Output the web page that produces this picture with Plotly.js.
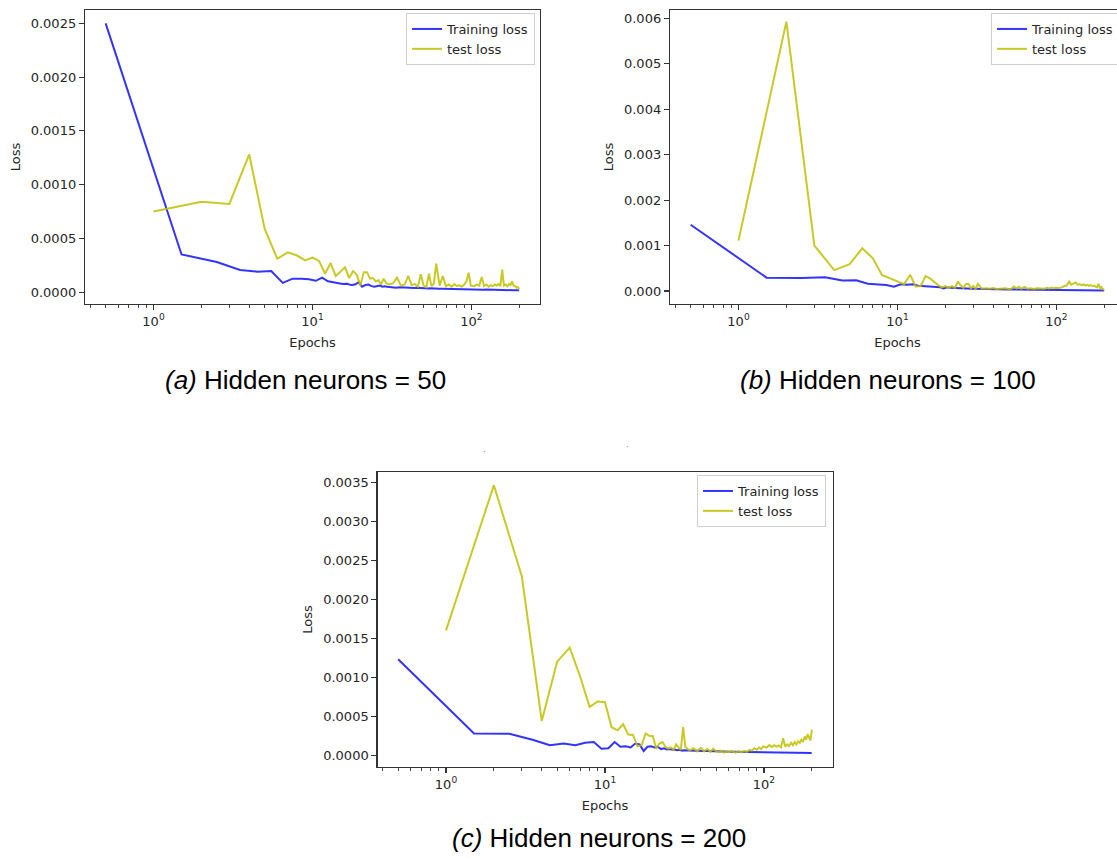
<!DOCTYPE html>
<html>
<head>
<meta charset="utf-8">
<script src="https://cdn.plot.ly/plotly-3.0.1.min.js"></script>
<style>
html, body { margin: 0; padding: 0; overflow: hidden; background: #ffffff; }
#plot { width: 1130px; height: 858px; }
</style>
</head>
<body>
<div id="plot"></div>
<script>
// ---------- data ----------
const testEpochs = [1,2,3,4,5,6,7,8,9,10,11,12,13,14,15,16,17,18,19,20,21,22,23,24,25,26,27,28,29,30,31,32,
  34,36,38,40,42,44,46,48,50,52,54,56,58,60,
  63,66,69,72,75,78,81,84,87,90,93,96,99,
  104,108,112,116,120,124,128,132,136,140,144,148,152,156,160,164,168,172,176,180,184,188,192,196,200];
const trainEpochs = [0.5,1.5,2.5,3.5,4.5,5.5,6.5,7.5,8.5,9.5,10.5,11.5,12.5,13.5,14.5,15.5,16.5,17.5,18.5,19.5,20.5,21.5,22.5,23.5,24.5,25.5,26.5,27.5,28.5,29.5,30.5,31.5,
  33.5,35.5,37.5,39.5,41.5,43.5,45.5,47.5,49.5,51.5,53.5,55.5,57.5,59.5,
  62.5,65.5,68.5,71.5,74.5,77.5,80.5,83.5,86.5,89.5,92.5,95.5,98.5,
  103.5,107.5,111.5,115.5,119.5,123.5,127.5,131.5,135.5,139.5,143.5,147.5,151.5,155.5,159.5,163.5,167.5,171.5,175.5,179.5,183.5,187.5,191.5,195.5,199.5];

// (a) hidden neurons = 50
const trainLossA = [25e-4,3.5e-4,2.8e-4,2.05e-4,1.9e-4,1.95e-4,0.85e-4,1.25e-4,1.25e-4,1.2e-4,
  1.05e-4,1.35e-4,1.0e-4,0.9e-4,0.8e-4,0.75e-4,0.78e-4,0.65e-4,0.7e-4,0.9e-4,
  0.5e-4,0.65e-4,0.7e-4,0.55e-4,0.5e-4,0.55e-4,0.6e-4,0.5e-4,0.55e-4,0.5e-4,0.48e-4,0.45e-4,
  0.4e-4,0.45e-4,0.42e-4,0.4e-4,0.42e-4,0.38e-4,0.4e-4,0.37e-4,0.35e-4,0.36e-4,0.33e-4,0.35e-4,0.32e-4,0.3e-4,
  0.31e-4,0.3e-4,0.29e-4,0.3e-4,0.28e-4,0.29e-4,0.27e-4,0.28e-4,0.26e-4,0.27e-4,0.25e-4,0.26e-4,0.25e-4,
  0.24e-4,0.25e-4,0.23e-4,0.24e-4,0.22e-4,0.23e-4,0.22e-4,0.21e-4,0.22e-4,0.2e-4,0.21e-4,0.2e-4,0.2e-4,0.19e-4,0.2e-4,0.19e-4,0.18e-4,0.19e-4,0.18e-4,0.18e-4,0.17e-4,0.18e-4,0.17e-4,0.16e-4,0.17e-4];
const testLossA = [7.5e-4,8.4e-4,8.2e-4,12.8e-4,5.9e-4,3.1e-4,3.7e-4,3.4e-4,2.95e-4,3.2e-4,
  2.9e-4,1.7e-4,2.7e-4,1.5e-4,1.9e-4,2.3e-4,1.3e-4,1.95e-4,1.6e-4,0.6e-4,
  1.85e-4,1.85e-4,1.25e-4,1.3e-4,1.0e-4,1.1e-4,0.7e-4,1.25e-4,0.85e-4,0.7e-4,0.75e-4,0.8e-4,
  1.35e-4,0.6e-4,0.7e-4,1.5e-4,0.65e-4,0.75e-4,0.5e-4,1.65e-4,0.6e-4,0.45e-4,1.7e-4,0.55e-4,0.8e-4,2.65e-4,
  0.6e-4,1.5e-4,0.55e-4,0.7e-4,0.5e-4,0.75e-4,0.55e-4,0.65e-4,0.5e-4,0.7e-4,1.0e-4,1.8e-4,0.6e-4,
  0.55e-4,0.7e-4,0.6e-4,1.4e-4,0.55e-4,0.7e-4,0.5e-4,0.65e-4,0.55e-4,0.7e-4,0.6e-4,0.75e-4,0.55e-4,2.1e-4,0.6e-4,0.7e-4,0.55e-4,0.75e-4,0.65e-4,1.0e-4,0.6e-4,0.55e-4,0.4e-4,0.45e-4,0.3e-4];

// (b) hidden neurons = 100
const trainLossB = [14.6e-4,2.95e-4,2.85e-4,3.05e-4,2.3e-4,2.35e-4,1.6e-4,1.4e-4,1.35e-4,0.95e-4,
  1.5e-4,1.4e-4,1.5e-4,1.15e-4,1.05e-4,1.0e-4,0.95e-4,0.9e-4,0.85e-4,0.55e-4,
  0.8e-4,0.75e-4,0.7e-4,0.75e-4,0.6e-4,0.65e-4,0.5e-4,0.6e-4,0.55e-4,0.5e-4,0.52e-4,0.5e-4,
  0.45e-4,0.47e-4,0.42e-4,0.44e-4,0.4e-4,0.41e-4,0.38e-4,0.39e-4,0.36e-4,0.37e-4,0.34e-4,0.35e-4,0.33e-4,0.32e-4,
  0.31e-4,0.3e-4,0.29e-4,0.28e-4,0.28e-4,0.27e-4,0.26e-4,0.26e-4,0.25e-4,0.24e-4,0.24e-4,0.23e-4,0.22e-4,
  0.22e-4,0.21e-4,0.2e-4,0.2e-4,0.19e-4,0.18e-4,0.18e-4,0.17e-4,0.17e-4,0.16e-4,0.16e-4,0.15e-4,0.15e-4,0.14e-4,0.14e-4,0.13e-4,0.13e-4,0.12e-4,0.12e-4,0.12e-4,0.11e-4,0.11e-4,0.1e-4,0.1e-4,0.1e-4];
const testLossB = [11.1e-4,59.3e-4,10.0e-4,4.6e-4,5.9e-4,9.4e-4,7.2e-4,3.5e-4,2.8e-4,2.2e-4,
  1.5e-4,3.6e-4,1.0e-4,1.1e-4,3.3e-4,2.8e-4,2.0e-4,1.3e-4,0.8e-4,1.1e-4,
  0.7e-4,1.1e-4,0.7e-4,2.1e-4,1.2e-4,0.7e-4,1.6e-4,1.5e-4,0.6e-4,1.1e-4,0.5e-4,1.6e-4,
  0.5e-4,0.6e-4,0.5e-4,0.65e-4,0.45e-4,0.55e-4,0.5e-4,0.6e-4,0.4e-4,0.5e-4,1.0e-4,0.6e-4,0.95e-4,0.5e-4,
  0.9e-4,0.5e-4,0.6e-4,0.45e-4,0.6e-4,0.55e-4,0.65e-4,0.5e-4,0.7e-4,0.55e-4,0.75e-4,0.6e-4,0.7e-4,
  0.65e-4,0.8e-4,1.1e-4,1.2e-4,2.1e-4,1.4e-4,1.6e-4,1.9e-4,1.4e-4,1.5e-4,1.3e-4,1.45e-4,1.2e-4,1.35e-4,1.15e-4,1.3e-4,1.1e-4,1.2e-4,1.0e-4,0.8e-4,1.6e-4,0.6e-4,0.9e-4,0.4e-4,0.3e-4];

// (c) hidden neurons = 200
const trainLossC = [12.3e-4,2.8e-4,2.75e-4,2.0e-4,1.3e-4,1.5e-4,1.3e-4,1.6e-4,1.7e-4,0.85e-4,
  0.9e-4,1.7e-4,1.1e-4,1.15e-4,1.0e-4,1.5e-4,1.4e-4,0.55e-4,1.1e-4,1.15e-4,
  1.0e-4,1.1e-4,0.8e-4,0.9e-4,0.75e-4,0.8e-4,0.7e-4,0.75e-4,0.65e-4,0.7e-4,0.6e-4,0.65e-4,
  0.62e-4,0.58e-4,0.6e-4,0.56e-4,0.55e-4,0.54e-4,0.52e-4,0.53e-4,0.5e-4,0.5e-4,0.48e-4,0.49e-4,0.47e-4,0.46e-4,
  0.46e-4,0.45e-4,0.44e-4,0.44e-4,0.43e-4,0.42e-4,0.42e-4,0.41e-4,0.4e-4,0.4e-4,0.39e-4,0.39e-4,0.38e-4,
  0.38e-4,0.37e-4,0.37e-4,0.36e-4,0.36e-4,0.35e-4,0.35e-4,0.34e-4,0.34e-4,0.33e-4,0.33e-4,0.33e-4,0.32e-4,0.32e-4,0.32e-4,0.31e-4,0.31e-4,0.31e-4,0.3e-4,0.3e-4,0.3e-4,0.3e-4,0.29e-4,0.29e-4,0.29e-4];
const testLossC = [16.0e-4,34.6e-4,22.9e-4,4.4e-4,12.0e-4,13.8e-4,10.0e-4,6.2e-4,6.9e-4,6.8e-4,
  3.6e-4,3.2e-4,4.0e-4,2.65e-4,2.6e-4,1.15e-4,1.3e-4,2.8e-4,2.5e-4,2.45e-4,
  0.85e-4,1.5e-4,1.7e-4,1.1e-4,0.85e-4,1.0e-4,0.7e-4,1.4e-4,1.0e-4,0.7e-4,3.6e-4,1.1e-4,
  0.6e-4,0.9e-4,0.5e-4,0.95e-4,0.5e-4,0.8e-4,0.45e-4,0.85e-4,0.5e-4,0.4e-4,0.6e-4,0.35e-4,0.5e-4,0.4e-4,
  0.55e-4,0.35e-4,0.5e-4,0.4e-4,0.55e-4,0.45e-4,0.7e-4,0.6e-4,0.9e-4,0.7e-4,1.0e-4,0.8e-4,1.15e-4,
  1.0e-4,1.3e-4,1.05e-4,1.3e-4,1.1e-4,1.25e-4,1.0e-4,2.2e-4,1.1e-4,1.4e-4,1.2e-4,1.6e-4,1.3e-4,1.7e-4,1.4e-4,1.8e-4,1.6e-4,2.0e-4,1.7e-4,2.4e-4,2.0e-4,2.7e-4,2.2e-4,1.9e-4,3.3e-4];

const seriesNames = ['Training loss', 'test loss'];
const captions = ['<i>(a)</i> Hidden neurons = 50', '<i>(b)</i> Hidden neurons = 100', '<i>(c)</i> Hidden neurons = 200'];
const xTickVals = [1, 10, 100];
const xTickText = ['10<sup>0</sup>', '10<sup>1</sup>', '10<sup>2</sup>'];

// ---------- layout geometry ----------
const W = 1130, H = 858;
const BLUE = 'rgba(0,0,255,0.8)';
const YEL = 'rgba(191,191,0,0.85)';
const TXT = '#262626';
const FONT = 'DejaVu Sans, sans-serif';
const minorVals = [0.4,0.5,0.6,0.7,0.8,0.9,2,3,4,5,6,7,8,9,20,30,40,50,60,70,80,90,200];

function xAxis(l, r, anchor) {
  return {
    type: 'log', domain: [l / W, r / W], range: [-0.431, 2.431], anchor: anchor,
    showline: true, mirror: true, linecolor: '#333', linewidth: 1.2,
    ticks: 'outside', ticklen: 5, tickwidth: 1.1, tickcolor: '#333',
    tickmode: 'array', tickvals: xTickVals, ticktext: xTickText,
    tickfont: { family: FONT, size: 13, color: TXT },
    minor: { ticks: 'outside', ticklen: 3, tickwidth: 0.9, tickcolor: '#333', tickmode: 'array', tickvals: minorVals, showgrid: false },
    showgrid: false, zeroline: false, automargin: false,
    title: { text: 'Epochs', font: { family: FONT, size: 13, color: TXT }, standoff: 10 }
  };
}
function yAxis(t, b, range, dtick, fmt, anchor) {
  return {
    domain: [1 - b / H, 1 - t / H], range: range, anchor: anchor,
    showline: true, mirror: true, linecolor: '#333', linewidth: 1.2,
    ticks: 'outside', ticklen: 5, tickwidth: 1.1, tickcolor: '#333',
    tick0: 0, dtick: dtick, tickformat: fmt,
    tickfont: { family: FONT, size: 13, color: TXT },
    showgrid: false, zeroline: false, automargin: false,
    title: { text: 'Loss', font: { family: FONT, size: 13, color: TXT }, standoff: 7 }
  };
}
function legendAt(rightPx, topPx) {
  return {
    x: rightPx / W, y: 1 - topPx / H, xanchor: 'right', yanchor: 'top',
    bgcolor: 'rgba(255,255,255,0.85)', bordercolor: '#cfcfcf', borderwidth: 1,
    font: { family: FONT, size: 13, color: TXT }, itemwidth: 30, tracegroupgap: 0
  };
}
function line(x, y, name, color, xa, ya, leg) {
  return { x: x, y: y, name: name, type: 'scatter', mode: 'lines', xaxis: xa, yaxis: ya, legend: leg,
    line: { color: color, width: 2 }, hoverinfo: 'skip' };
}

const data = [
  line(trainEpochs, trainLossA, seriesNames[0], BLUE, 'x', 'y', 'legend'),
  line(testEpochs, testLossA, seriesNames[1], YEL, 'x', 'y', 'legend'),
  line(trainEpochs, trainLossB, seriesNames[0], BLUE, 'x2', 'y2', 'legend2'),
  line(testEpochs, testLossB, seriesNames[1], YEL, 'x2', 'y2', 'legend2'),
  line(trainEpochs, trainLossC, seriesNames[0], BLUE, 'x3', 'y3', 'legend3'),
  line(testEpochs, testLossC, seriesNames[1], YEL, 'x3', 'y3', 'legend3')
];

function caption(text, cx, cy) {
  return { text: text, xref: 'paper', yref: 'paper', x: cx / W, y: 1 - cy / H,
    xanchor: 'center', yanchor: 'middle', showarrow: false,
    font: { family: 'Liberation Sans, Arial, sans-serif', size: 26, color: '#000' } };
}
function dot(cx, cy) {
  return { text: '·', xref: 'paper', yref: 'paper', x: cx / W, y: 1 - cy / H,
    xanchor: 'center', yanchor: 'middle', showarrow: false,
    font: { family: FONT, size: 9, color: '#777' } };
}

const layout = {
  width: W, height: H, margin: { l: 0, r: 0, t: 0, b: 0 },
  paper_bgcolor: '#ffffff', plot_bgcolor: '#ffffff', showlegend: true,
  xaxis: xAxis(85, 540, 'y'),
  yaxis: yAxis(10, 304, [-0.000111, 0.002624], 0.0005, '.4f', 'x'),
  xaxis2: xAxis(670, 1125, 'y2'),
  yaxis2: yAxis(10, 304, [-0.000285, 0.006185], 0.001, '.3f', 'x2'),
  xaxis3: xAxis(377.5, 832.5, 'y3'),
  yaxis3: yAxis(472, 767, [-0.00015, 0.00363], 0.0005, '.4f', 'x3'),
  legend: legendAt(535, 13),
  legend2: legendAt(1120, 13),
  legend3: legendAt(826, 475),
  annotations: [
    caption(captions[0], 305, 380),
    caption(captions[1], 888, 380),
    caption(captions[2], 599, 838),
    dot(484, 452), dot(627, 447)
  ]
};

Plotly.newPlot('plot', data, layout, { staticPlot: true, displayModeBar: false });
</script>
</body>
</html>
